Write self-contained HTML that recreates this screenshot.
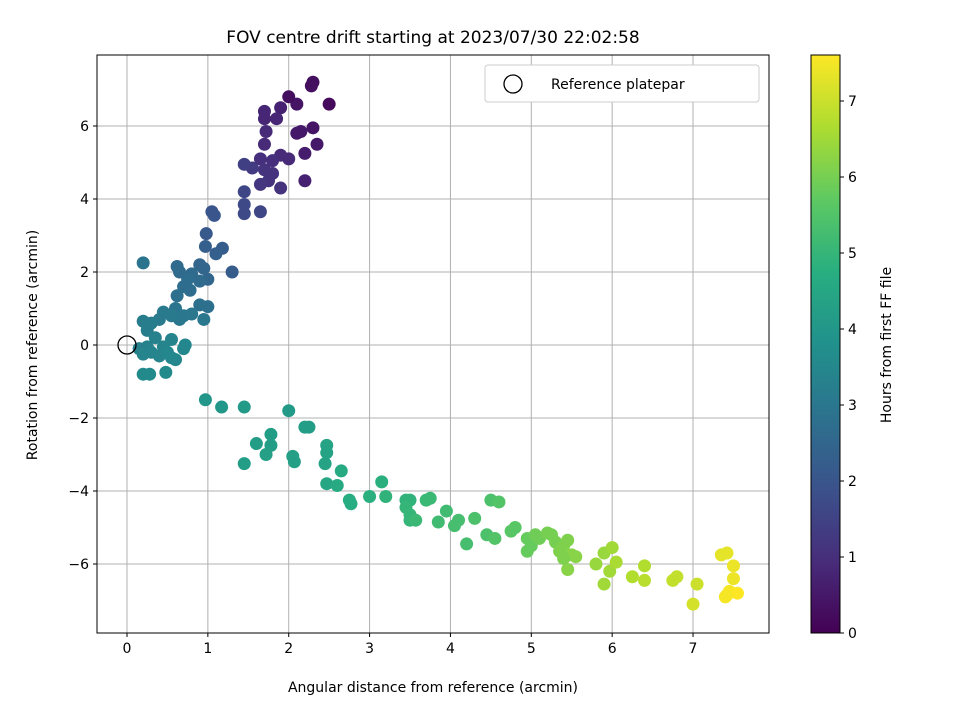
<!DOCTYPE html>
<html><head><meta charset="utf-8"><style>
body{margin:0;background:#fff;font-family:"Liberation Sans","DejaVu Sans",sans-serif}
</style></head><body>
<svg id="chart" width="960" height="720" xmlns="http://www.w3.org/2000/svg" font-family="DejaVu Sans, Liberation Sans, sans-serif">
<defs><linearGradient id="vir" x1="0" y1="1" x2="0" y2="0">
<stop offset="0" stop-color="#440154"/><stop offset="0.125" stop-color="#472d7b"/><stop offset="0.25" stop-color="#3b528b"/><stop offset="0.375" stop-color="#2c728e"/><stop offset="0.5" stop-color="#21918c"/><stop offset="0.625" stop-color="#28ae80"/><stop offset="0.75" stop-color="#5ec962"/><stop offset="0.875" stop-color="#addc30"/><stop offset="1" stop-color="#fde725"/></linearGradient></defs>
<g id="grid"></g><g id="pts"></g><g id="axes"></g>
</svg>
<script>
const xs=[2.5,2.3,2.28,2.1,2.0,2.35,2.3,2.2,2.15,2.1,2.2,1.7,1.9,1.85,1.7,1.72,1.7,1.9,2.0,1.8,1.65,1.7,1.8,1.75,1.65,1.9,1.55,1.45,1.45,1.45,1.45,1.65,1.05,1.08,0.98,1.18,1.3,0.97,1.1,0.9,0.95,0.62,0.65,0.8,1.0,0.9,0.75,0.7,0.78,0.62,0.9,1.0,0.95,0.6,0.7,0.65,0.8,0.55,0.45,0.4,0.2,0.2,0.25,0.3,0.35,0.55,0.45,0.25,0.15,0.3,0.4,0.55,0.6,0.7,0.72,0.5,0.2,0.28,0.48,0.2,0.97,1.17,1.45,2.0,1.45,1.6,1.78,1.78,1.72,2.05,2.07,2.2,2.25,2.47,2.47,2.45,2.47,2.65,2.6,2.77,2.75,3.0,3.15,3.2,3.45,3.5,3.45,3.5,3.5,3.57,3.7,3.75,3.85,3.95,4.05,4.1,4.2,4.3,4.45,4.55,4.5,4.6,4.75,4.8,4.95,4.95,5.0,5.05,5.1,5.2,5.25,5.3,5.35,5.4,5.45,5.45,5.5,5.55,5.4,5.8,5.9,5.9,5.97,6.0,6.05,6.25,6.4,6.4,6.75,6.8,7.05,7.0,7.35,7.42,7.5,7.5,7.42,7.4,7.45,7.55];
const ys=[6.6,7.2,7.1,6.6,6.8,5.5,5.95,5.25,5.85,5.8,4.5,6.4,6.5,6.2,6.2,5.85,5.5,5.2,5.1,5.05,5.1,4.8,4.7,4.5,4.4,4.3,4.85,4.95,4.2,3.6,3.85,3.65,3.65,3.55,3.05,2.65,2.0,2.7,2.5,2.2,2.1,2.15,2.0,1.95,1.8,1.75,1.8,1.6,1.5,1.35,1.1,1.05,0.7,1.0,0.8,0.7,0.85,0.8,0.9,0.7,2.25,0.65,0.4,0.6,0.2,0.15,-0.05,-0.05,-0.1,-0.2,-0.3,-0.35,-0.4,-0.1,0.0,-0.2,-0.8,-0.8,-0.75,-0.25,-1.5,-1.7,-1.7,-1.8,-3.25,-2.7,-2.45,-2.75,-3.0,-3.05,-3.2,-2.25,-2.25,-2.75,-2.95,-3.25,-3.8,-3.45,-3.85,-4.35,-4.25,-4.15,-3.75,-4.15,-4.25,-4.25,-4.45,-4.65,-4.8,-4.8,-4.25,-4.2,-4.85,-4.55,-4.95,-4.8,-5.45,-4.75,-5.2,-5.3,-4.25,-4.3,-5.1,-5.0,-5.65,-5.3,-5.5,-5.2,-5.3,-5.15,-5.2,-5.4,-5.65,-5.5,-5.35,-6.15,-5.75,-5.8,-5.85,-6.0,-6.55,-5.7,-6.2,-5.55,-5.95,-6.35,-6.05,-6.45,-6.45,-6.35,-6.55,-7.1,-5.75,-5.7,-6.05,-6.4,-6.85,-6.9,-6.75,-6.8];
const hrs=[0.2,0.3,0.3,0.4,0.3,0.5,0.4,0.6,0.5,0.5,0.7,0.8,0.7,0.8,0.8,0.9,0.9,0.9,0.9,1.0,1.0,1.1,1.1,1.1,1.2,1.1,1.3,1.4,1.6,1.7,1.7,1.6,2.0,2.0,2.1,2.2,2.2,2.3,2.3,2.5,2.5,2.6,2.6,2.6,2.5,2.6,2.7,2.7,2.7,2.8,2.8,2.8,3.0,2.9,3.0,3.0,3.0,3.1,3.1,3.1,2.9,3.2,3.2,3.2,3.3,3.4,3.4,3.3,3.3,3.4,3.4,3.5,3.5,3.5,3.5,3.5,3.6,3.6,3.6,3.4,4.0,4.0,4.1,4.1,4.2,4.2,4.2,4.2,4.3,4.3,4.3,4.2,4.2,4.4,4.4,4.4,4.5,4.6,4.6,4.7,4.7,4.8,4.8,4.9,4.9,4.9,5.0,5.0,5.0,5.1,5.1,5.1,5.2,5.2,5.3,5.3,5.3,5.4,5.4,5.5,5.4,5.5,5.6,5.6,5.8,5.8,5.8,5.9,5.9,6.0,6.0,6.0,6.1,6.1,6.1,6.2,6.2,6.2,6.1,6.4,6.5,6.4,6.5,6.5,6.6,6.7,6.7,6.8,6.9,6.9,7.0,7.1,7.3,7.3,7.4,7.4,7.5,7.5,7.5,7.6];
const xticks=[0,1,2,3,4,5,6,7], yticks=[-6,-4,-2,0,2,4,6], cticks=[0,1,2,3,4,5,6,7];
const L=97,R=769,T=55,B=633;
const X=v=>127+v*80.86, Y=v=>345-v*36.5;
const CB=v=>633-v*(532/7), cmax=7.6;
const stops=["#440154","#472d7b","#3b528b","#2c728e","#21918c","#28ae80","#5ec962","#addc30","#fde725"];
function hex(h){return [1,3,5].map(i=>parseInt(h.substr(i,2),16))}
function vir(t){t=Math.max(0,Math.min(1,t))*8;const i=Math.min(7,Math.floor(t)),f=t-i;const a=hex(stops[i]),b=hex(stops[i+1]);return `rgb(${a.map((c,k)=>Math.round(c+(b[k]-c)*f)).join(',')})`}
const NS="http://www.w3.org/2000/svg";
function mk(p,tag,at,txt){const e=document.createElementNS(NS,tag);for(const k in at)e.setAttribute(k,at[k]);if(txt!==undefined)e.textContent=txt;p.appendChild(e);return e}
const g=document.getElementById('grid'),P=document.getElementById('pts'),A=document.getElementById('axes');
xticks.forEach(t=>{const l=mk(g,'line',{x1:X(t),x2:X(t),y1:T,y2:B,stroke:'#b0b0b0','stroke-width':1});

mk(A,'line',{x1:X(t),x2:X(t),y1:B,y2:B+4,stroke:'#000'});
const tx=mk(A,'text',{x:X(t),y:B+20,'text-anchor':'middle','font-size':14},String(t));
});
yticks.forEach(t=>{const l=mk(g,'line',{x1:L,x2:R,y1:Y(t),y2:Y(t),stroke:'#b0b0b0','stroke-width':1});

mk(A,'line',{x1:L-4,x2:L,y1:Y(t),y2:Y(t),stroke:'#000'});
const tx=mk(A,'text',{x:L-8,y:Y(t)+5,'text-anchor':'end','font-size':14},t<0?'\u2212'+(-t):String(t));
});
xs.forEach((x,i)=>{const c=mk(P,'circle',{cx:X(x),cy:Y(ys[i]),r:6.5,fill:vir(hrs[i]/cmax)});
});
let e;
e=mk(A,'circle',{cx:X(0),cy:Y(0),r:9,fill:'none',stroke:'#000','stroke-width':1.3});
e=mk(A,'rect',{x:L,y:T,width:R-L,height:B-T,fill:'none',stroke:'#000'});
e=mk(A,'text',{x:433,y:43,'text-anchor':'middle','font-size':17},'FOV centre drift starting at 2023/07/30 22:02:58');
e=mk(A,'text',{x:433,y:692,'text-anchor':'middle','font-size':14},'Angular distance from reference (arcmin)');
e=mk(A,'text',{x:37,y:345,'text-anchor':'middle','font-size':14,transform:'rotate(-90 37 345)'},'Rotation from reference (arcmin)');
e=mk(A,'rect',{x:485,y:65,width:274,height:37,rx:3,fill:'#fff',stroke:'#ccc'});
mk(A,'circle',{cx:513,cy:84,r:9,fill:'none',stroke:'#000','stroke-width':1.3});
e=mk(A,'text',{x:551,y:89,'font-size':14},'Reference platepar');
e=mk(A,'rect',{x:811,y:T,width:29,height:B-T,fill:'url(#vir)',stroke:'#000'});
cticks.forEach(t=>{mk(A,'line',{x1:840,x2:844,y1:CB(t),y2:CB(t),stroke:'#000'});
const tx=mk(A,'text',{x:848,y:CB(t)+5,'font-size':14},String(t));});
e=mk(A,'text',{x:891,y:345,'text-anchor':'middle','font-size':14,transform:'rotate(-90 891 345)'},'Hours from first FF file');
</script>
</body></html>
